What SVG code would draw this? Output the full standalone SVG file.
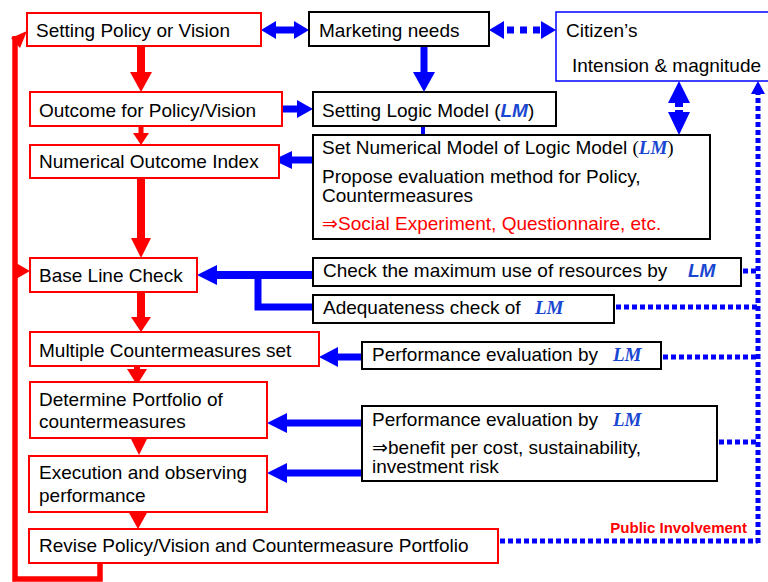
<svg xmlns="http://www.w3.org/2000/svg" width="768" height="582" viewBox="0 0 768 582">
<style>
text{font-family:"Liberation Sans",Arial,sans-serif;font-size:19px;fill:#000}
.rb{fill:#fff;stroke:#ff0000;stroke-width:2}
.bb{fill:#fff;stroke:#000;stroke-width:2}
.lm{font-weight:bold;font-style:italic;fill:#1a47d1}
.lms{font-family:"Liberation Serif","Times New Roman",serif;font-weight:bold;font-style:italic;fill:#1a47d1}
.ser{font-family:"Liberation Serif","Times New Roman",serif}
.red{fill:#ff0000}
.bl{stroke:#0000ff;fill:none}
.bf{fill:#0000ff}
.rl{stroke:#ff0000;fill:none}
.rf{fill:#ff0000}
.dot{stroke:#0000ff;fill:none;stroke-width:5;stroke-dasharray:5 3}
</style>
<g id="connectors">
<!-- red flow -->
<line class="rl" x1="141" y1="46" x2="141" y2="73" stroke-width="8"/>
<polygon class="rf" points="130,72 152,72 141,92"/>
<line class="rl" x1="141" y1="126" x2="141" y2="134" stroke-width="5"/>
<polygon class="rf" points="133,133 149,133 141,145"/>
<line class="rl" x1="141" y1="178" x2="141" y2="239" stroke-width="8"/>
<polygon class="rf" points="131,238 151,238 141,258"/>
<line class="rl" x1="141" y1="292" x2="141" y2="318" stroke-width="8"/>
<polygon class="rf" points="131,317 151,317 141,332"/>
<line class="rl" x1="137" y1="366" x2="137" y2="370" stroke-width="6"/>
<polygon class="rf" points="127,369 147,369 137,385"/>
<polygon class="rf" points="130,437 148,437 139,455"/>
<polygon class="rf" points="128,511 148,511 138,529"/>
<polyline class="rl" points="100,563 100,579 15,579 15,36" stroke-width="5.5"/>
<polygon class="rf" points="11,38 27,31 20,48"/>
<polygon class="rf" points="16,263 30,271 16,279"/>
<!-- blue solid -->
<line class="bl" x1="275" y1="30" x2="295" y2="30" stroke-width="7"/>
<polygon class="bf" points="261,30 276,21 276,39"/>
<polygon class="bf" points="309,30 294,21 294,39"/>
<polygon class="bf" points="489,30 504,21 504,39"/>
<polygon class="bf" points="556,30 541,21 541,39"/>
<line class="bl" x1="504" y1="30" x2="541" y2="30" stroke-width="7" stroke-dasharray="7 6" stroke-dashoffset="-3"/>
<line class="bl" x1="424" y1="46" x2="424" y2="73" stroke-width="7"/>
<polygon class="bf" points="413,72 435,72 424,92"/>
<line class="bl" x1="282" y1="109" x2="298" y2="109" stroke-width="7"/>
<polygon class="bf" points="297,100 313,109 297,118"/>
<line class="bl" x1="423" y1="126" x2="423" y2="135" stroke-width="4"/>
<polygon class="bf" points="417,134 429,134 423,146"/>
<line class="bl" x1="291" y1="160" x2="313" y2="160" stroke-width="7"/>
<polygon class="bf" points="273,160 292,151 292,169"/>
<polygon class="bf" points="679,81 668,103 690,103"/>
<polygon class="bf" points="679,135 668,112 690,112"/>
<line class="bl" x1="679" y1="102" x2="679" y2="113" stroke-width="8" stroke-dasharray="5 3"/>
<line class="bl" x1="216" y1="275" x2="313" y2="275" stroke-width="8"/>
<polygon class="bf" points="197,275 217,265 217,285"/>
<polyline class="bl" points="313,307 258,307 258,275" stroke-width="7"/>
<line class="bl" x1="337" y1="357" x2="362" y2="357" stroke-width="7"/>
<polygon class="bf" points="319,357 338,347 338,367"/>
<line class="bl" x1="286" y1="423" x2="362" y2="423" stroke-width="7"/>
<polygon class="bf" points="267,423 287,413 287,433"/>
<line class="bl" x1="286" y1="473" x2="362" y2="473" stroke-width="7"/>
<polygon class="bf" points="267,473 287,463 287,483"/>
<!-- blue dotted -->
<line class="dot" x1="743" y1="271" x2="758" y2="271"/>
<line class="dot" x1="616" y1="307" x2="758" y2="307"/>
<line class="dot" x1="663" y1="357" x2="758" y2="357"/>
<line class="dot" x1="719" y1="442" x2="758" y2="442"/>
<line class="dot" x1="500" y1="541" x2="758" y2="541"/>
<line class="dot" x1="758" y1="543" x2="758" y2="93"/>
<polygon class="bf" points="758,81 751,94 765,94"/>
</g>
<g id="n-policy"><rect class="rb" x="27" y="13" width="234" height="33"/><text x="36" y="37">Setting Policy or Vision</text></g>
<g id="n-marketing"><rect class="bb" x="309" y="12" width="180" height="34"/><text x="319" y="37">Marketing needs</text></g>
<g id="n-citizen"><rect x="556" y="12" width="216" height="69" fill="#fff" stroke="#0000ff" stroke-width="1.5"/><text x="566" y="37">Citizen’s</text><text x="572" y="72">Intension &amp; magnitude</text></g>
<g id="n-outcome"><rect class="rb" x="30" y="92" width="252" height="34"/><text x="39" y="117">Outcome for Policy/Vision</text></g>
<g id="n-slm"><rect class="bb" x="313" y="92" width="243" height="34"/><text x="322" y="117">Setting Logic Model (<tspan class="lm">LM</tspan>)</text></g>
<g id="n-index"><rect class="rb" x="30" y="145" width="249" height="33"/><text x="39" y="168">Numerical Outcome Index</text></g>
<g id="n-setnum"><rect class="bb" x="313" y="135" width="397" height="104"/>
<text x="322" y="154">Set Numerical Model of Logic Model <tspan class="ser">(</tspan><tspan class="lms">LM</tspan><tspan class="ser">)</tspan></text>
<text x="322" y="183">Propose evaluation method for Policy,</text>
<text x="322" y="202">Countermeasures</text>
<text class="red" x="322" y="230">⇒Social Experiment, Questionnaire, etc.</text></g>
<g id="n-baseline"><rect class="rb" x="30" y="258" width="167" height="34"/><text x="39" y="282">Base Line Check</text></g>
<g id="n-checkmax"><rect class="bb" x="313" y="258" width="428" height="28"/><text x="323" y="277">Check the maximum use of resources by</text><text class="lm" x="688" y="277">LM</text></g>
<g id="n-adequate"><rect class="bb" x="313" y="295" width="301" height="28"/><text x="323" y="314">Adequateness check of</text><text class="lms" x="535" y="314">LM</text></g>
<g id="n-multiple"><rect class="rb" x="30" y="332" width="289" height="34"/><text x="39" y="357">Multiple Countermeasures set</text></g>
<g id="n-perf1"><rect class="bb" x="362" y="342" width="299" height="27"/><text x="372" y="361">Performance evaluation by</text><text class="lms" x="613" y="361">LM</text></g>
<g id="n-portfolio"><rect class="rb" x="30" y="382" width="237" height="56"/><text x="39" y="406">Determine Portfolio of</text><text x="39" y="428">countermeasures</text></g>
<g id="n-perf2"><rect class="bb" x="362" y="406" width="355" height="75"/><text x="372" y="426">Performance evaluation by</text><text class="lms" x="613" y="426">LM</text>
<text x="372" y="454">⇒benefit per cost, sustainability,</text><text x="372" y="473">investment risk</text></g>
<g id="n-execution"><rect class="rb" x="29" y="456" width="238" height="56"/><text x="39" y="479">Execution and observing</text><text x="39" y="502">performance</text></g>
<g id="n-revise"><rect class="rb" x="29" y="529" width="469" height="34"/><text x="39" y="552">Revise Policy/Vision and Countermeasure Portfolio</text></g>
<text class="red" x="747" y="533" text-anchor="end" style="font-size:15px;font-weight:bold">Public Involvement</text>
</svg>
